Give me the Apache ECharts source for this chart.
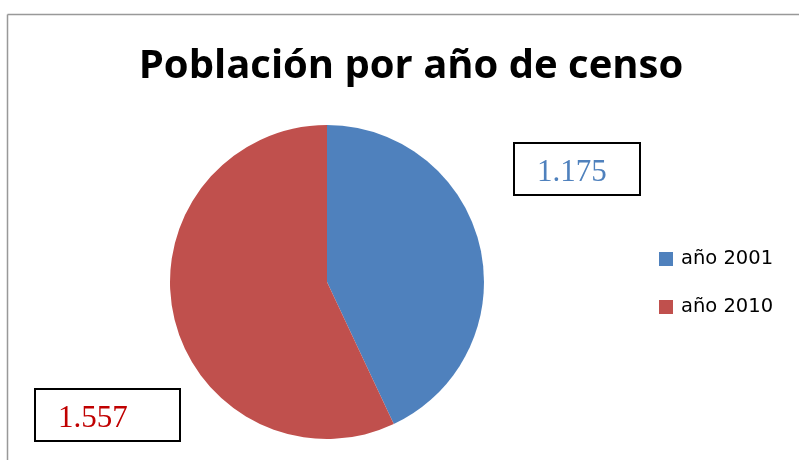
<!DOCTYPE html>
<html>
<head>
    <meta http-equiv="content-type" content="text/html;charset=utf-8" />
    <title>Población por año de censo</title>
    <script src="https://cdn.jsdelivr.net/npm/echarts@6/dist/echarts.min.js"></script>
    <style type="text/css">
        * { margin: 0; padding: 0 }
        html, body { background: #fff; }
        #main { width: 799px; height: 460px; }
    </style>
</head>
<body>
<div id="main"></div>
<script>
    // datos
    var categorias = ["año 2001", "año 2010"];
    var poblacion = [1175, 1557];
    var etiquetas = ["1.175", "1.557"];

    var colores = ["#4F81BD", "#C0504D"];
    var coloresTexto = ["#4F81BD", "#C00000"];
    // cajas de etiqueta: esquina sup. izq. y ancho interior
    var cajas = [[515, 144], [36, 390]];
    var anchos = [80, 99];

    var chart = echarts.init(document.getElementById("main"));

    var datos = [];
    for (var i = 0; i < categorias.length; i++) {
        datos.push({
            name: categorias[i],
            value: poblacion[i],
            itemStyle: { color: colores[i] },
            label: { color: coloresTexto[i], width: anchos[i] }
        });
    }

    var option = {
        animation: false,
        title: {
            text: "Población por año de censo",
            left: 406,
            textAlign: "center",
            top: 42,
            textStyle: {
                fontFamily: "Open Sans",
                fontWeight: "bold",
                fontSize: 40,
                color: "#000"
            }
        },
        legend: {
            orient: "vertical",
            left: 654,
            top: 244,
            itemWidth: 14,
            itemHeight: 14,
            itemGap: 28,
            icon: "rect",
            data: categorias,
            textStyle: { fontFamily: "DejaVu Sans", fontSize: 19.5, color: "#000", padding: [0, 0, 0, 3] }
        },
        graphic: [
            { type: "line", shape: { x1: 7.5, y1: 14.5, x2: 799, y2: 14.5 }, style: { stroke: "#999", lineWidth: 1.5 } },
            { type: "line", shape: { x1: 7.5, y1: 14.5, x2: 7.5, y2: 460 }, style: { stroke: "#999", lineWidth: 1.5 } }
        ],
        series: [{
            type: "pie",
            center: [327, 282],
            radius: 157,
            startAngle: 90,
            clockwise: true,
            data: datos,
            label: {
                show: true,
                formatter: function (p) { return etiquetas[p.dataIndex]; },
                fontFamily: "Liberation Serif",
                fontSize: 31,
                overflow: "none",
                backgroundColor: "#fff",
                borderColor: "#000",
                borderWidth: 2,
                padding: [13, 22, 6, 22]
            },
            labelLine: { show: false },
            labelLayout: function (p) {
                return {
                    x: cajas[p.dataIndex][0],
                    y: cajas[p.dataIndex][1],
                    align: "left",
                    verticalAlign: "top"
                };
            }
        }]
    };
    chart.setOption(option);
</script>
</body>
</html>
